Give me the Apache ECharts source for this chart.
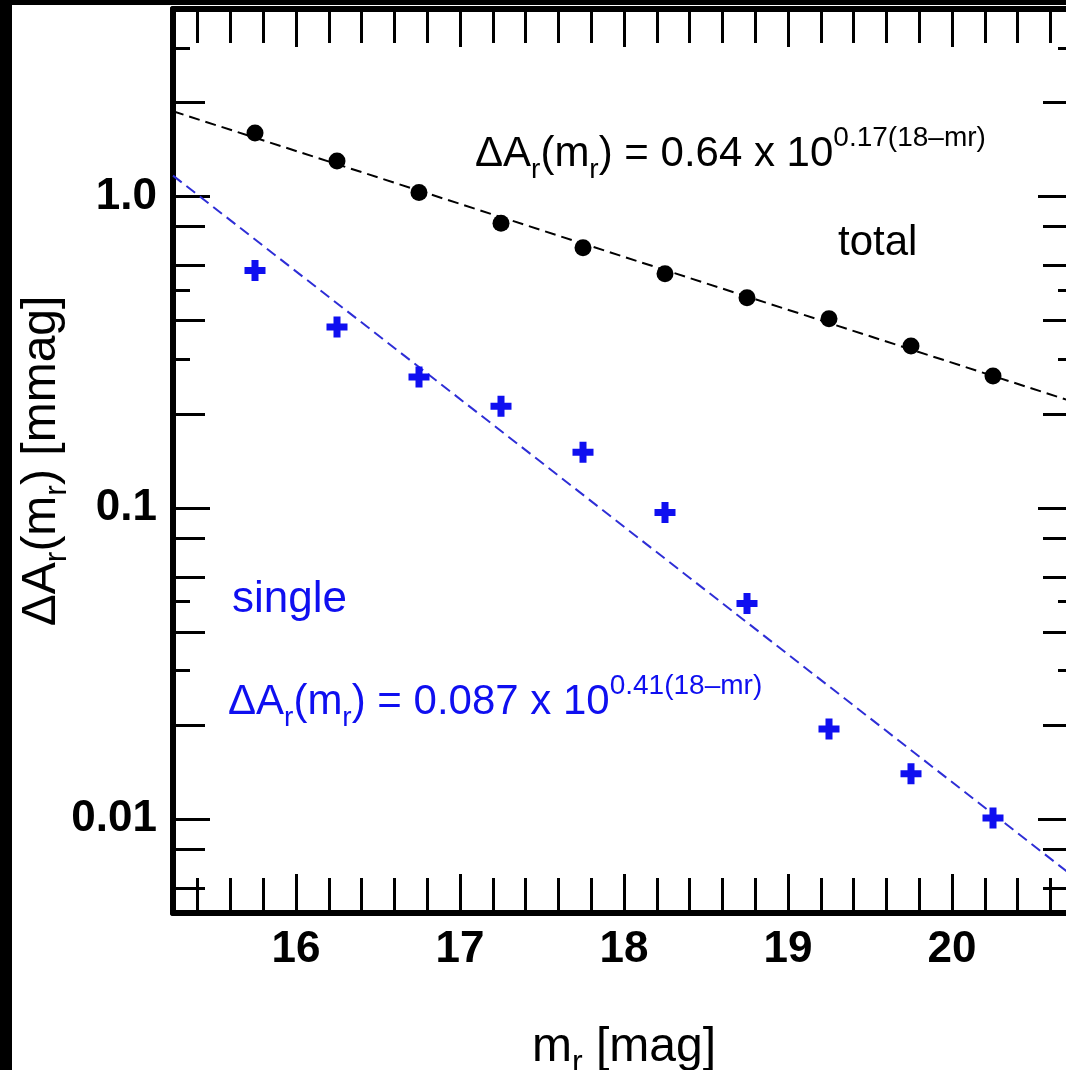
<!DOCTYPE html>
<html>
<head>
<meta charset="utf-8">
<title>ΔA_r vs m_r</title>
<script src="https://cdn.jsdelivr.net/npm/echarts@6/dist/echarts.min.js"></script>
<style>
  html, body { margin: 0; padding: 0; background: #fff; }
  #chart { width: 1066px; height: 1070px; }
</style>
</head>
<body>
<div id="chart"></div>
<script>
// Magnitude bins (mag)
const mags = [15.75, 16.25, 16.75, 17.25, 17.75, 18.25, 18.75, 19.25, 19.75, 20.25];
// Total amplitude per bin (mmag)
const totalAmp = [1.60, 1.30, 1.03, 0.82, 0.685, 0.565, 0.473, 0.405, 0.331, 0.265];
// Single-visit amplitude per bin (mmag)
const singleAmp = [0.578, 0.381, 0.263, 0.212, 0.151, 0.0967, 0.0493, 0.0195, 0.0140, 0.0101];

// Fit coefficients: dA = a * 10^(b * (pivot - m))
const fitPivot = 18;
const totalFit = [0.64, 0.17];
const singleFit = [0.087, 0.41];

// Axis ranges
const magRange = [15.25, 20.75];
const ampRange = [0.005, 4];

// Tick positions
const xMajorTicks = [16, 17, 18, 19, 20];
const xMinorTicks = [15.4, 15.6, 15.8, 16, 16.2, 16.4, 16.6, 16.8, 17, 17.2, 17.4, 17.6, 17.8, 18,
                     18.2, 18.4, 18.6, 18.8, 19, 19.2, 19.4, 19.6, 19.8, 20, 20.2, 20.4, 20.6];
const yMajorTicks = [0.01, 0.1, 1];
const yMajorLabels = ['0.01', '0.1', '1.0'];
const yMidTicks = [0.006, 0.008, 0.02, 0.04, 0.06, 0.08, 0.2, 0.4, 0.6, 0.8, 2];
const yShortTicks = [0.03, 0.05, 0.3, 0.5, 3];

const FONT = '"Liberation Sans", Arial, Helvetica, sans-serif';
const BLUE = '#0f0ff0';
const BLUE_LINE = '#2e2ed6';

function fitLine(fit) {
  return magRange.map(m => [m, fit[0] * Math.pow(10, fit[1] * (fitPivot - m))]);
}

function formulaText(a, b) {
  return '{m|\u0394A}{s|r}{m|(m}{s|r}{m|) = ' + a + ' x 10}{p|' + b + '(18\u2013mr)}';
}

function richFor(color) {
  return {
    m: { fontSize: 42, lineHeight: 60, verticalAlign: 'middle', fill: color, fontFamily: FONT },
    s: { fontSize: 28, lineHeight: 30, verticalAlign: 'bottom', fill: color, fontFamily: FONT },
    p: { fontSize: 28, lineHeight: 36, verticalAlign: 'top', fill: color, fontFamily: FONT }
  };
}

const chart = echarts.init(document.getElementById('chart'), null, { renderer: 'canvas' });

const frameLine = { show: true, onZero: false, lineStyle: { color: '#000', width: 6 } };
const tickStyle = { color: '#000', width: 3 };

function xAxisDef(position, ticks, length, withLabels, withLine) {
  return {
    type: 'value', position: position, min: magRange[0], max: magRange[1],
    axisLine: withLine ? frameLine : { show: false },
    splitLine: { show: false },
    axisTick: { show: true, inside: true, length: length, lineStyle: tickStyle, customValues: ticks },
    axisLabel: withLabels ? {
      show: true, customValues: xMajorTicks, margin: 15,
      fontSize: 44, fontWeight: 'bold', color: '#000', fontFamily: FONT
    } : { show: false }
  };
}

function yAxisDef(position, ticks, length, withLabels, withLine) {
  return {
    type: 'log', logBase: 10, position: position, min: ampRange[0], max: ampRange[1],
    axisLine: withLine ? frameLine : { show: false },
    splitLine: { show: false },
    minorTick: { show: false },
    axisTick: { show: true, inside: true, length: length, lineStyle: tickStyle, customValues: ticks },
    axisLabel: withLabels ? {
      show: true, customValues: yMajorTicks, margin: 16,
      fontSize: 44, fontWeight: 'bold', color: '#000', fontFamily: FONT,
      formatter: v => {
        const i = yMajorTicks.findIndex(t => Math.abs(Math.log10(t) - Math.log10(v)) < 1e-6);
        return i >= 0 ? yMajorLabels[i] : '';
      }
    } : { show: false }
  };
}

const nameRich = {
  a: { fontSize: 48, lineHeight: 62, color: '#000', fontFamily: FONT, verticalAlign: 'middle' },
  b: { fontSize: 32, lineHeight: 42, color: '#000', fontFamily: FONT, verticalAlign: 'bottom' }
};

const xAxes = [
  xAxisDef('bottom', xMajorTicks, 39, true, true),
  xAxisDef('bottom', xMinorTicks, 35, false, false),
  xAxisDef('top', xMajorTicks, 38, false, true),
  xAxisDef('top', xMinorTicks, 34, false, false)
];
xAxes[0].name = '{a|m}{b|r}{a| [mag]}';
xAxes[0].nameLocation = 'middle';
xAxes[0].nameGap = 104;
xAxes[0].nameMoveOverlap = false;
xAxes[0].nameTextStyle = { rich: nameRich };

const yAxes = [
  yAxisDef('left', yMajorTicks, 37, true, true),
  yAxisDef('left', yMidTicks, 32, false, false),
  yAxisDef('left', yShortTicks, 17, false, false),
  yAxisDef('right', yMajorTicks, 37, false, true),
  yAxisDef('right', yMidTicks, 32, false, false),
  yAxisDef('right', yShortTicks, 17, false, false)
];
yAxes[0].name = '{a|\u0394A}{b|r}{a|(m}{b|r}{a|) [mmag]}';
yAxes[0].nameLocation = 'middle';
yAxes[0].nameGap = 100;
yAxes[0].nameRotate = 90;
yAxes[0].nameMoveOverlap = false;
yAxes[0].nameTextStyle = { rich: nameRich };

const option = {
  backgroundColor: '#fff',
  animation: false,
  grid: { left: 173, right: -9, top: 9, bottom: 157, containLabel: false, outerBoundsMode: 'none' },
  xAxis: xAxes,
  yAxis: yAxes,
  series: [
    {
      name: 'total fit', type: 'line', xAxisIndex: 0, yAxisIndex: 0,
      data: fitLine(totalFit), symbol: 'none', silent: true,
      lineStyle: { color: '#000', width: 2, type: [11, 6] }, z: 2
    },
    {
      name: 'single fit', type: 'line', xAxisIndex: 0, yAxisIndex: 0,
      data: fitLine(singleFit), symbol: 'none', silent: true,
      lineStyle: { color: BLUE_LINE, width: 2, type: [11, 6] }, z: 2
    },
    {
      name: 'total', type: 'scatter', xAxisIndex: 0, yAxisIndex: 0,
      data: mags.map((m, i) => [m, totalAmp[i]]),
      symbol: 'circle', symbolSize: 17,
      itemStyle: { color: '#000', opacity: 1 }, z: 3
    },
    {
      name: 'single', type: 'scatter', xAxisIndex: 0, yAxisIndex: 0,
      data: mags.map((m, i) => [m, singleAmp[i]]),
      symbol: 'path://M-1,-3L1,-3L1,-1L3,-1L3,1L1,1L1,3L-1,3L-1,1L-3,1L-3,-1L-1,-1Z',
      symbolSize: 21,
      itemStyle: { color: BLUE, opacity: 1 }, z: 3
    }
  ],
  graphic: [
    {
      type: 'text', left: 475, top: 124, z: 10,
      style: { text: formulaText('0.64', '0.17'), rich: richFor('#000'), fill: '#000' }
    },
    {
      type: 'text', left: 838, top: 222, z: 10,
      style: { text: 'total', fill: '#000', font: '42px ' + FONT }
    },
    {
      type: 'text', left: 232, top: 578, z: 10,
      style: { text: 'single', fill: BLUE, font: '44px ' + FONT }
    },
    {
      type: 'text', left: 228, top: 672, z: 10,
      style: { text: formulaText('0.087', '0.41'), rich: richFor(BLUE), fill: BLUE }
    },
    { type: 'rect', z: 20, shape: { x: 0, y: 0, width: 1066, height: 5 }, style: { fill: '#000' } },
    { type: 'rect', z: 20, shape: { x: 0, y: 0, width: 12, height: 1070 }, style: { fill: '#000' } }
  ]
};

chart.setOption(option);
</script>
</body>
</html>
